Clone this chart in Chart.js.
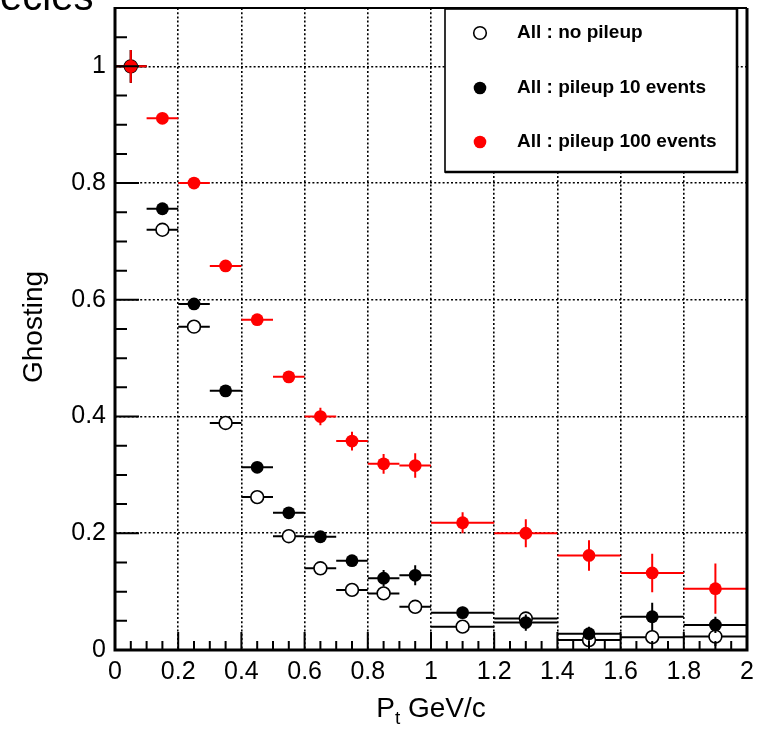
<!DOCTYPE html>
<html>
<head>
<meta charset="utf-8">
<title>Ghosting vs Pt</title>
<script src="https://cdn.jsdelivr.net/npm/chart.js@4/dist/chart.umd.min.js"></script>
<style>
  html, body { margin: 0; padding: 0; background: #fff; overflow: hidden; }
  #wrap { position: relative; width: 765px; height: 729px; }
  #head {
    position: absolute; left: 0; top: -24px; z-index: 2;
    font: 40px "Liberation Sans", Arial, sans-serif; line-height: 1;
    color: #000; white-space: nowrap;
  }
</style>
</head>
<body>
<div id="wrap">
  <div id="head">ecies</div>
  <canvas id="ghost"></canvas>
</div>
<script>
/* ---------------- data ---------------- */
// Pt bins (GeV/c)
const ptLow  = [0, 0.1, 0.2, 0.3, 0.4, 0.5, 0.6, 0.7, 0.8, 0.9, 1.0, 1.2, 1.4, 1.6, 1.8];
const ptHigh = [0.1, 0.2, 0.3, 0.4, 0.5, 0.6, 0.7, 0.8, 0.9, 1.0, 1.2, 1.4, 1.6, 1.8, 2.0];
const ptMid  = [0.05, 0.15, 0.25, 0.35, 0.45, 0.55, 0.65, 0.75, 0.85, 0.95, 1.1, 1.3, 1.5, 1.7, 1.9];

// ghosting rate + vertical errors
const ghostNoPileup  = [1.0, 0.720, 0.554, 0.389, 0.262, 0.195, 0.140, 0.103, 0.097, 0.074, 0.040, 0.054, 0.017, 0.022, 0.023];
const errNoPileup    = [0.028, 0.006, 0.006, 0.006, 0.006, 0.006, 0.006, 0.006, 0.006, 0.008, 0.008, 0.010, 0.012, 0.012, 0.016];
const ghostPileup10  = [1.0, 0.756, 0.593, 0.444, 0.313, 0.235, 0.194, 0.153, 0.123, 0.128, 0.064, 0.047, 0.028, 0.057, 0.043];
const errPileup10    = [0.028, 0.008, 0.008, 0.008, 0.008, 0.008, 0.008, 0.008, 0.014, 0.017, 0.010, 0.014, 0.012, 0.024, 0.014];
const ghostPileup100 = [1.0, 0.911, 0.800, 0.658, 0.566, 0.468, 0.400, 0.358, 0.319, 0.316, 0.218, 0.200, 0.162, 0.132, 0.105];
const errPileup100   = [0.028, 0.008, 0.008, 0.010, 0.008, 0.010, 0.015, 0.016, 0.017, 0.021, 0.018, 0.024, 0.026, 0.033, 0.043];

const seriesLabels = ['All : no pileup', 'All : pileup 10 events', 'All : pileup 100 events'];
const xTitle = ['P', 't', ' GeV/c'];
const yTitle = 'Ghosting';

/* ---------------- helpers ---------------- */
const FONT = '"Liberation Sans", Arial, Helvetica, sans-serif';
const pts = vals => vals.map((v, i) => ({x: ptMid[i], y: v}));

function series(label, vals, errs, fill, stroke, order){
  return {
    label, data: pts(vals), errY: errs, order,
    pointStyle: 'circle', pointRadius: 6.4, pointHoverRadius: 6.4,
    pointBackgroundColor: fill, pointBorderColor: stroke,
    pointBorderWidth: fill === '#fff' ? 1.6 : 0,
    barColor: stroke, showLine: false
  };
}

/* error bars under each series' markers, frame/ticks/legend/titles on top */
const rootStyle = {
  id: 'rootStyle',
  beforeDatasetDraw(chart, args){
    const ds = chart.data.datasets[args.index];
    const {x, y} = chart.scales, ctx = chart.ctx;
    ctx.save();
    ctx.strokeStyle = ds.barColor;
    ctx.lineWidth = 2;
    ds.data.forEach((p, k) => {
      const px = x.getPixelForValue(p.x), py = y.getPixelForValue(p.y);
      ctx.beginPath();
      ctx.moveTo(x.getPixelForValue(ptLow[k]), py);
      ctx.lineTo(x.getPixelForValue(ptHigh[k]), py);
      ctx.moveTo(px, y.getPixelForValue(p.y - ds.errY[k]));
      ctx.lineTo(px, y.getPixelForValue(p.y + ds.errY[k]));
      ctx.stroke();
    });
    ctx.restore();
  },
  afterDatasetsDraw(chart){
    const {ctx, chartArea: a, scales: {x, y}} = chart;
    ctx.save();
    ctx.strokeStyle = '#000';

    // inner ticks
    ctx.lineWidth = 2;
    ctx.beginPath();
    for (let k = 0; k <= 40; k++){
      const px = x.getPixelForValue(k * 0.05), len = k % 4 === 0 ? 18 : 9;
      ctx.moveTo(px, a.bottom); ctx.lineTo(px, a.bottom - len);
    }
    for (let k = 0; k <= 22; k++){
      const py = y.getPixelForValue(k * 0.05), len = k % 4 === 0 ? 24 : 12;
      ctx.moveTo(a.left, py); ctx.lineTo(a.left + len, py);
    }
    ctx.stroke();

    // frame
    ctx.lineWidth = 2;
    ctx.beginPath(); ctx.moveTo(a.left, a.top); ctx.lineTo(a.right, a.top); ctx.stroke();
    ctx.lineWidth = 3;
    ctx.beginPath();
    ctx.moveTo(a.right, a.top); ctx.lineTo(a.right, a.bottom);
    ctx.lineTo(a.left, a.bottom); ctx.lineTo(a.left, a.top - 1);
    ctx.stroke();

    // legend box
    const L = {l: 445, t: 9, r: 737, b: 172};
    ctx.fillStyle = '#fff';
    ctx.fillRect(L.l, L.t, L.r - L.l, L.b - L.t);
    ctx.lineWidth = 1.6;
    ctx.strokeRect(L.l, L.t, L.r - L.l, L.b - L.t);
    ctx.lineWidth = 2.6;
    ctx.beginPath(); ctx.moveTo(L.l, L.b); ctx.lineTo(L.r, L.b); ctx.lineTo(L.r, L.t); ctx.stroke();

    const rows = [33, 88, 142];
    chart.data.datasets.slice().sort((p, q) => q.order - p.order).forEach((ds, i) => {
      ctx.beginPath();
      ctx.arc(480, rows[i], 6.3, 0, Math.PI * 2);
      ctx.fillStyle = ds.pointBackgroundColor;
      ctx.fill();
      if (ds.pointBorderWidth){ ctx.lineWidth = 1.6; ctx.strokeStyle = ds.pointBorderColor; ctx.stroke(); }
      ctx.fillStyle = '#000';
      ctx.font = 'bold 19px ' + FONT;
      ctx.textAlign = 'left'; ctx.textBaseline = 'middle';
      ctx.fillText(seriesLabels[i], 517, rows[i]);
    });

    // axis titles
    ctx.fillStyle = '#000';
    ctx.textBaseline = 'alphabetic';
    ctx.textAlign = 'left';
    ctx.font = '28px ' + FONT;
    const wP = ctx.measureText(xTitle[0]).width, wRest = ctx.measureText(xTitle[2]).width;
    ctx.font = '19px ' + FONT;
    const wSub = ctx.measureText(xTitle[1]).width;
    let tx = (a.left + a.right) / 2 - (wP + wSub + wRest) / 2;
    ctx.font = '28px ' + FONT;
    ctx.fillText(xTitle[0], tx, 717);
    ctx.font = '19px ' + FONT;
    ctx.fillText(xTitle[1], tx + wP, 724);
    ctx.font = '28px ' + FONT;
    ctx.fillText(xTitle[2], tx + wP + wSub, 717);

    ctx.translate(42, (a.top + a.bottom) / 2 - 2);
    ctx.rotate(-Math.PI / 2);
    ctx.textAlign = 'center';
    ctx.fillText(yTitle, 0, 0);
    ctx.restore();
  }
};

/* ---------------- chart ---------------- */
const tickFont = {family: FONT, size: 25};
const fmtTick = v => String(+(+v).toFixed(1));

new Chart(document.getElementById('ghost'), {
  type: 'scatter',
  data: {
    datasets: [
      series(seriesLabels[0], ghostNoPileup,  errNoPileup,  '#fff', '#000', 3),
      series(seriesLabels[1], ghostPileup10,  errPileup10,  '#000', '#000', 2),
      series(seriesLabels[2], ghostPileup100, errPileup100, '#ff0000', '#ff0000', 1)
    ]
  },
  options: {
    responsive: true,
    maintainAspectRatio: false,
    animation: false,
    layout: {padding: {top: 7, right: 18, left: 0, bottom: 0}},
    plugins: {legend: {display: false}, tooltip: {enabled: false}},
    scales: {
      x: {
        type: 'linear', min: 0, max: 2,
        afterFit(s){ s.height = 79; s.paddingLeft = 0; s.paddingRight = 0; },
        grid: {color: '#000', lineWidth: 1.6, drawTicks: false},
        border: {display: false, dash: [2, 2.2]},
        ticks: {stepSize: 0.2, autoSkip: false, maxRotation: 0, padding: 7,
                color: '#000', font: tickFont, callback: fmtTick}
      },
      y: {
        type: 'linear', min: 0, max: 1.1,
        afterBuildTicks(s){ s.ticks = s.ticks.filter(t => t.value <= 1.0001); },
        afterFit(s){ s.width = 115; s.paddingTop = 0; s.paddingBottom = 0; },
        grid: {color: '#000', lineWidth: 1.6, drawTicks: false},
        border: {display: false, dash: [2, 2.2]},
        ticks: {stepSize: 0.2, padding: 9, color: '#000', font: tickFont, callback: fmtTick}
      }
    }
  },
  plugins: [rootStyle]
});
</script>
</body>
</html>
